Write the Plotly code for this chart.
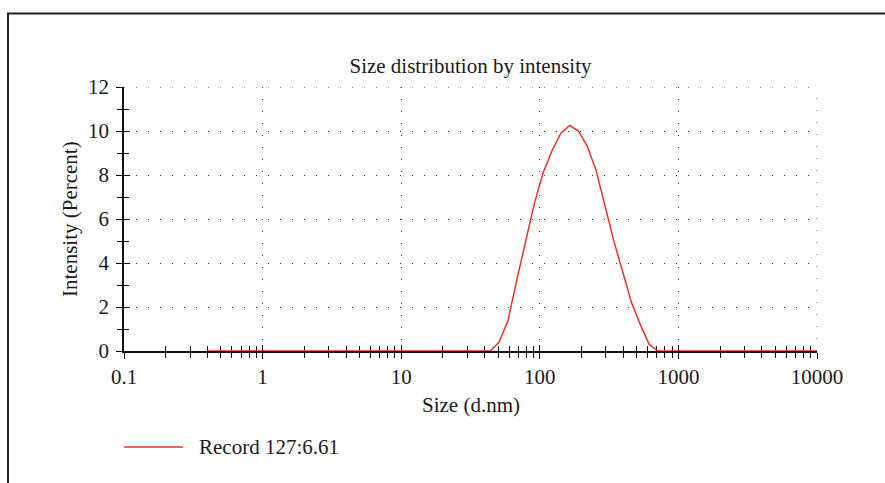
import plotly.graph_objects as go

# Size bins (d.nm) and intensity (%)
sizes = [0.4, 0.4632, 0.5365, 0.6213, 0.7195, 0.8332, 0.9649, 1.117, 1.294, 1.499,
         1.736, 2.010, 2.328, 2.696, 3.122, 3.615, 4.187, 4.849, 5.615, 6.503,
         7.531, 8.721, 10.10, 11.70, 13.54, 15.69, 18.17, 21.04, 24.36, 28.21,
         32.67, 37.84, 43.82, 50.75, 58.77, 68.06, 78.82, 91.28, 105.7, 122.4,
         141.8, 164.2, 190.1, 220.2, 255.0, 295.3, 342.0, 396.1, 458.7, 531.2,
         615.1, 712.4, 825.0, 955.4, 1106, 1281, 1484, 1718, 1990, 2305,
         2669, 3091, 3580, 4145, 4801, 5560, 6439, 7456, 8635, 10000]
intensity = [0, 0, 0, 0, 0, 0, 0, 0, 0, 0,
             0, 0, 0, 0, 0, 0, 0, 0, 0, 0,
             0, 0, 0, 0, 0, 0, 0, 0, 0, 0,
             0, 0, 0, 0.4, 1.35, 3.2, 5.0, 6.7, 8.1, 9.1,
             9.9, 10.25, 10.0, 9.3, 8.2, 6.6, 5.0, 3.6, 2.2, 1.2,
             0.3, 0, 0, 0, 0, 0, 0, 0, 0, 0,
             0, 0, 0, 0, 0, 0, 0, 0, 0, 0]

series_name = "Record 127:6.61"
title_text = "Size distribution by intensity"
x_title = "Size (d.nm)"
y_title = "Intensity (Percent)"

x_major = [0.1, 1, 10, 100, 1000, 10000]
x_major_text = ["0.1", "1", "10", "100", "1000", "10000"]
x_minor = [m * d for d in [0.1, 1, 10, 100, 1000] for m in range(2, 10)]
y_major = [0, 2, 4, 6, 8, 10, 12]
y_minor = [1, 3, 5, 7, 9, 11]

FONT = "Liberation Serif"
FS = 21
TXT = "#1a1a1a"
RED = "#e5362c"
AX = "#111111"
GRID = "#333333"
GDASH = "1px,11px"

L, R, T, B = 124, 68, 87, 132
W, H = 885, 483
pw, ph = W - L - R, H - T - B

def px_x(x):
    return (x - L) / pw

def px_y(y):
    return (H - B - y) / ph

fig = go.Figure()
fig.add_trace(go.Scatter(x=sizes, y=intensity, mode="lines",
                         line=dict(color=RED, width=1.5), name=series_name,
                         cliponaxis=False, showlegend=False, hoverinfo="skip"))
# invisible helper traces to instantiate overlay axes (inside ticks)
fig.add_trace(go.Scatter(x=sizes, y=intensity, mode="lines", xaxis="x2", yaxis="y",
                         line=dict(width=0), opacity=0, showlegend=False, hoverinfo="skip"))
fig.add_trace(go.Scatter(x=sizes, y=intensity, mode="lines", xaxis="x", yaxis="y2",
                         line=dict(width=0), opacity=0, showlegend=False, hoverinfo="skip"))

axfont = dict(family=FONT, size=FS, color=TXT)

xcommon = dict(type="log", range=[-1, 4], tickmode="array", tickvals=x_major,
               tickwidth=1.3, tickcolor=AX, ticklen=6)
ycommon = dict(range=[0, 12], tickmode="array", tickvals=y_major,
               tickwidth=1.3, tickcolor=AX, ticklen=6)

fig.update_layout(
    width=W, height=H,
    margin=dict(l=L, r=R, t=T, b=B, autoexpand=False),
    paper_bgcolor="white", plot_bgcolor="white",
    showlegend=False,
    title=dict(text=title_text, x=0.5, xref="paper", y=1 - 66 / H, yref="container",
               xanchor="center", yanchor="middle",
               font=dict(family=FONT, size=FS, color=TXT)),
    xaxis=dict(**xcommon, ticktext=x_major_text, ticks="outside",
               showline=True, linecolor=AX, linewidth=1.5, layer="below traces",
               showgrid=True, gridcolor=GRID, gridwidth=1, griddash=GDASH,
               zeroline=False, tickfont=axfont,
               minor=dict(tickmode="array", tickvals=x_minor, ticks="outside",
                          ticklen=5, tickwidth=1.3, tickcolor=AX, showgrid=False)),
    xaxis2=dict(**xcommon, overlaying="x", anchor="y", side="bottom", ticks="inside",
                showticklabels=False, showgrid=False, showline=False, zeroline=False,
                layer="below traces",
                minor=dict(tickmode="array", tickvals=x_minor, ticks="inside",
                           ticklen=5, tickwidth=1.3, tickcolor=AX, showgrid=False)),
    yaxis=dict(**ycommon, ticks="outside", showline=True, linecolor=AX, linewidth=1.5,
               layer="below traces", ticklabelstandoff=3,
               showgrid=True, gridcolor=GRID, gridwidth=1, griddash=GDASH,
               zeroline=False, tickfont=axfont,
               minor=dict(tickmode="array", tickvals=y_minor, ticks="outside",
                          ticklen=5, tickwidth=1.3, tickcolor=AX, showgrid=False)),
    yaxis2=dict(**ycommon, overlaying="y", anchor="x", side="left", ticks="inside",
                showticklabels=False, showgrid=False, showline=False, zeroline=False,
                layer="below traces",
                minor=dict(tickmode="array", tickvals=y_minor, ticks="inside",
                           ticklen=5, tickwidth=1.3, tickcolor=AX, showgrid=False)),
)

# edge grid lines (top at 12, right at 10000)
fig.add_shape(type="line", xref="paper", yref="y", x0=0, x1=1, y0=y_major[-1], y1=y_major[-1],
              line=dict(color=GRID, width=1, dash=GDASH), layer="below")
fig.add_shape(type="line", xref="x", yref="paper", x0=x_major[-1], x1=x_major[-1], y0=0, y1=1,
              line=dict(color=GRID, width=1, dash=GDASH), layer="below")

# axis titles
fig.add_annotation(text=x_title, xref="paper", yref="paper", x=0.5, y=px_y(405),
                   xanchor="center", yanchor="middle", showarrow=False,
                   font=dict(family=FONT, size=FS, color=TXT))
fig.add_annotation(text=y_title, xref="paper", yref="paper", x=px_x(70), y=0.5,
                   xanchor="center", yanchor="middle", showarrow=False, textangle=-90,
                   font=dict(family=FONT, size=FS, color=TXT))

# legend (manual)
fig.add_shape(type="line", xref="paper", yref="paper", x0=px_x(124), x1=px_x(183),
              y0=px_y(447), y1=px_y(447), line=dict(color=RED, width=1.5))
fig.add_annotation(text=series_name, xref="paper", yref="paper", x=px_x(197), y=px_y(447),
                   xanchor="left", yanchor="middle", showarrow=False,
                   font=dict(family=FONT, size=FS, color=TXT))

# outer frame
fig.add_shape(type="rect", xref="paper", yref="paper",
              x0=px_x(8), x1=px_x(W + 20), y0=px_y(H + 20), y1=px_y(13.5),
              line=dict(color="#222222", width=2), fillcolor="rgba(0,0,0,0)", layer="below")

fig.write_html("out.html")
